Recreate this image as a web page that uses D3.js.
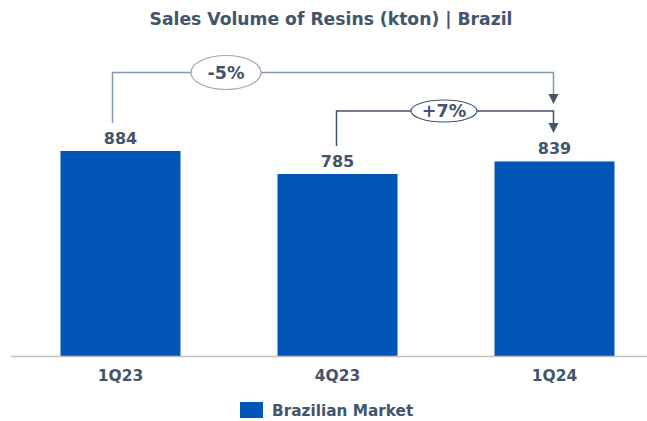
<!DOCTYPE html>
<html lang="en">
<head>
<meta charset="UTF-8">
<title>Sales Volume of Resins</title>
<script src="https://cdnjs.cloudflare.com/ajax/libs/d3/7.8.5/d3.min.js"></script>
<style>
  body { margin: 0; background: #fff; }
  text { font-family: Tahoma, "DejaVu Sans", Verdana, sans-serif; font-weight: bold; fill: #44546A; }
</style>
</head>
<body>
<svg id="chart" width="647" height="421"></svg>
<script>
  const categories = ['1Q23', '4Q23', '1Q24'];
  const values = [884, 785, 839];
  const seriesName = 'Brazilian Market';
  // growth callouts: from index -> to index
  const changes = [
    { from: 0, to: 2, label: '-5%' },
    { from: 1, to: 2, label: '+7%' }
  ];

  const svg = d3.select('#chart');
  const base = 356.5;

  const x = d3.scaleBand()
    .domain(categories)
    .range([12, 663])
    .paddingInner(0.447)
    .paddingOuter(0.2235);

  const y = d3.scaleLinear()
    .domain([0, 1000])
    .range([base, 124]);

  svg.append('text')
    .attr('x', 331)
    .attr('y', 25)
    .attr('text-anchor', 'middle')
    .style('font-size', '17.2px')
    .text('Sales Volume of Resins (kton) | Brazil');

  svg.selectAll('rect.bar')
    .data(values)
    .enter()
    .append('rect')
    .attr('class', 'bar')
    .attr('x', (d, i) => x(categories[i]))
    .attr('y', d => y(d))
    .attr('width', x.bandwidth())
    .attr('height', d => base - y(d))
    .attr('fill', '#0057B8');

  svg.append('line')
    .attr('x1', 11).attr('x2', 647)
    .attr('y1', base).attr('y2', base)
    .attr('stroke', '#C0C0C0')
    .attr('stroke-width', 1.5);

  svg.selectAll('text.cat')
    .data(categories)
    .enter()
    .append('text')
    .attr('class', 'cat')
    .attr('x', d => x(d) + x.bandwidth() / 2)
    .attr('y', 381)
    .attr('text-anchor', 'middle')
    .style('font-size', '15.5px')
    .text(d => d);

  svg.selectAll('text.val')
    .data(values)
    .enter()
    .append('text')
    .attr('class', 'val')
    .attr('x', (d, i) => x(categories[i]) + x.bandwidth() / 2)
    .attr('y', d => y(d) - 7)
    .attr('text-anchor', 'middle')
    .style('font-size', '16px')
    .text(d => d);

  // callout brackets
  const cx = i => x(categories[i]) + x.bandwidth() / 2;
  const levels = [72.5, 111];
  const tips = [104, 133];
  const lineCols = ['#8497B0', '#44546A'];
  const ovals = [{ rx: 35, ry: 17, col: '#A6A6A6' }, { rx: 33, ry: 11, col: '#44546A' }];

  changes.forEach((c, k) => {
    const x1 = cx(c.from) - (k === 0 ? 8 : 1);
    const x2 = cx(c.to) - 1;
    const startY = y(values[c.from]) - 28;
    const ly = levels[k];
    svg.append('path')
      .attr('d', `M${x1},${startY} V${ly} H${x2} V${tips[k] - 9}`)
      .attr('fill', 'none')
      .attr('stroke', lineCols[k])
      .attr('stroke-width', 1.5);
    svg.append('path')
      .attr('d', `M${x2 - 5},${tips[k] - 10} L${x2 + 5},${tips[k] - 10} L${x2},${tips[k]} Z`)
      .attr('fill', '#44546A');
    const ox = k === 0 ? 226 : 444;
    svg.append('ellipse')
      .attr('cx', ox).attr('cy', ly)
      .attr('rx', ovals[k].rx).attr('ry', ovals[k].ry)
      .attr('fill', '#fff')
      .attr('stroke', ovals[k].col)
      .attr('stroke-width', 1.2);
    svg.append('text')
      .attr('x', ox).attr('y', ly + 6)
      .attr('text-anchor', 'middle')
      .style('font-size', '17.5px')
      .text(c.label);
  });

  // legend
  svg.append('rect')
    .attr('x', 240).attr('y', 402)
    .attr('width', 23).attr('height', 16)
    .attr('fill', '#0057B8');
  svg.append('text')
    .attr('x', 272).attr('y', 416)
    .style('font-size', '15.3px')
    .text(seriesName);
</script>
</body>
</html>
